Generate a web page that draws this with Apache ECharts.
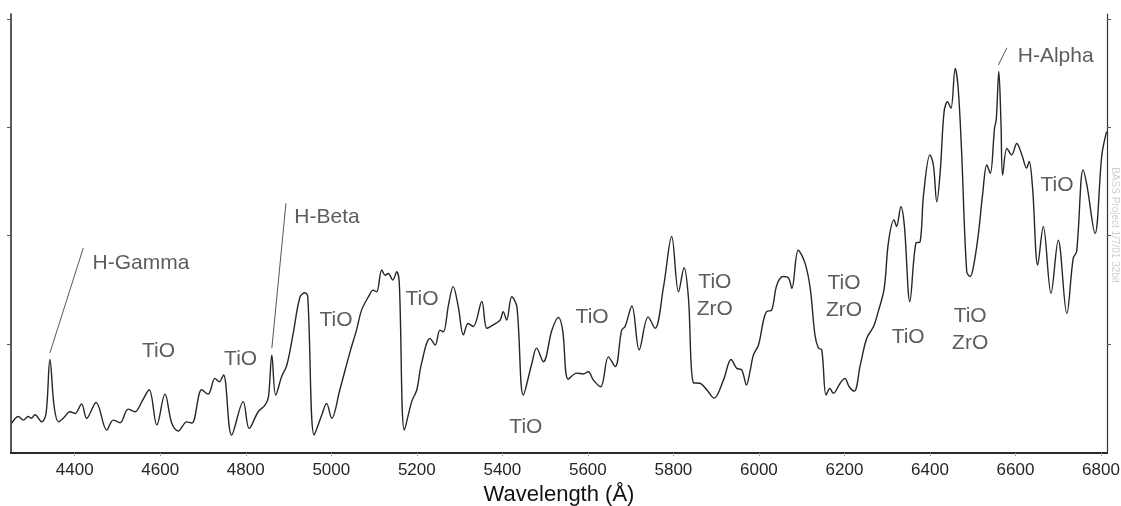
<!DOCTYPE html>
<html><head><meta charset="utf-8">
<script src="https://cdn.jsdelivr.net/npm/echarts@6/dist/echarts.min.js"></script>
<style>html,body{margin:0;padding:0;background:#fff}#c{width:1121px;height:506px}</style>
</head><body><div id="c"></div>
<script>
const wavelength = [4253,4268,4280,4291,4299,4307,4323,4333,4342,4352,4362,4373,4389,4401,4416,4428,4450,4475,4490,4506,4525,4541,4557,4574,4592,4611,4627,4642,4662,4674,4697,4712,4728,4738,4748,4767,4794,4808,4829,4845,4853,4861,4870,4884,4896,4911,4927,4939,4945,4960,4978,4989,5001,5020,5044,5059,5071,5087,5098,
5106,5118,5126,5133,5144,5153,5159,5171,5188,5200,5211,5231,5243,5254,5262,5274,5285,5297,5309,5320,5332,5352,5364,5379,5395,5402,5410,5422,5434,5449,5469,5480,5496,5516,5531,5541,5554,5574,5589,5601,5613,5630,5648,5664,5679,5687,5703,5720,5741,5757,5777,5796,5812,5825,5835,5847,5862,5878,5895,5917,5935,5948,5960,5971,5979,
5987,5999,6010,6018,6030,6042,6057,6069,6077,6092,6108,6120,6131,6139,6147,6157,6166,6174,6190,6201,6211,6223,6237,6252,6268,6279,6293,6303,6316,6322,6332,6340,6353,6367,6377,6385,6400,6408,6416,6424,6433,6441,6449,6459,6466,6474,6486,6494,6501,6513,6523,6533,6541,6551,6555,6561,6566,6570,6580,6591,6603,6615,6626,6632,6640,6652,6665,6683,6700,6720,6735,6743,6758,6767,6786,6802,6813];
const flux = [6.8,8.3,7.5,8.3,7.9,8.7,7.1,9.0,21.3,10.5,7.1,7.9,9.4,9.0,11.2,7.9,11.5,5.2,7.5,6.9,10.0,9.4,11.7,14.4,6.4,13.4,6.8,5.0,7.1,6.8,14.4,13.4,17.0,16.2,17.8,4.1,11.7,5.6,9.4,10.9,12.8,22.3,13.2,17.4,20.0,27.3,35.6,36.5,35.6,4.1,8.7,11.3,7.9,14.4,23.1,28.0,32.6,35.6,37.1,
36.7,41.7,40.5,40.9,39.4,41.3,38.7,5.2,11.7,14.4,20.4,26.1,24.6,28.0,27.6,33.7,37.9,33.3,26.9,29.5,28.8,34.5,28.4,29.2,30.3,32.2,30.3,35.6,33.3,13.2,20.4,23.9,20.8,28.0,30.9,28.0,16.8,18.2,18.0,18.5,16.6,15.1,21.9,19.7,28.0,28.8,33.5,23.5,31.0,28.4,37.9,49.3,36.7,42.2,35.6,16.0,15.9,14.4,12.5,16.6,21.3,19.3,18.9,15.5,18.5,
22.3,24.6,29.9,32.2,32.6,38.3,40.2,39.9,37.5,46.2,43.2,37.5,26.9,23.9,23.5,13.2,14.7,13.6,15.9,17.0,15.1,14.1,20.0,26.1,28.8,32.2,37.5,48.1,53.1,51.6,56.1,51.9,34.5,47.8,48.1,58.8,67.9,65.6,57.2,64.1,77.7,80.0,78.5,87.6,83.1,68.6,41.3,40.2,42.1,49.7,58.8,65.6,63.7,74.0,75.9,86.9,75.5,63.3,69.4,67.9,70.5,67.9,64.9,66.4,60.3,42.8,51.6,36.4,48.5,31.8,44.4,45.9,64.5,61.0,50.0,67.9,73.2];

const xTickValues = [4400,4600,4800,5000,5200,5400,5600,5800,6000,6200,6400,6600,6800];
const yTickValues = [24.8,49.5,74.2,98.8];
const xMin = 4251, xMax = 6814, yMin = 0, yMax = 100;

const annoText = ['H-Gamma','H-Beta','H-Alpha','TiO','TiO','TiO','TiO','TiO','TiO','TiO\nZrO','TiO\nZrO','TiO','TiO\nZrO','TiO'];
const annoX    = [4555,4990,6694,4596,4788,5011,5212,5455,5610,5897,6199,6349,6494,6697];
const annoY    = [43.3,53.8,90.4,23.3,21.4,30.2,35.1,5.8,30.9,35.8,35.6,26.3,28.0,60.9];

const leaderFrom = [[4342,22.8],[4861,23.9],[6560,88.4]];
const leaderTo   = [[4420,46.7],[4894,56.9],[6580,92.3]];

const FONT = "'Liberation Sans', Arial, sans-serif";
const spectrum = wavelength.map((w,i)=>[w, flux[i]]);
const annos = annoText.map((t,i)=>({name:t, value:[annoX[i], annoY[i]]}));
const leaders = leaderFrom.map((f,i)=>[{coord:f},{coord:leaderTo[i]}]);

const chart = echarts.init(document.getElementById('c'), null, {renderer:'canvas'});
chart.setOption({
  animation:false,
  backgroundColor:'#fff',
  grid:{left:11, right:14, top:14, bottom:53, outerBoundsMode:'none'},
  xAxis:[{
    type:'value', min:xMin, max:xMax, position:'bottom',
    axisLine:{lineStyle:{color:'#111', width:2}},
    axisTick:{customValues:xTickValues, length:3, lineStyle:{color:'#999'}},
    axisLabel:{customValues:xTickValues, formatter:v=>String(v), fontSize:17, color:'#262626', fontFamily:FONT, margin:9},
    splitLine:{show:false},
    name:'Wavelength (Å)', nameLocation:'middle', nameGap:28,
    nameTextStyle:{fontSize:22, color:'#111', fontFamily:FONT}
  },{
    type:'value', min:xMin, max:xMax, position:'top',
    axisLine:{lineStyle:{color:'#333', width:1.5}},
    axisTick:{customValues:xTickValues, inside:true, length:3, lineStyle:{color:'#aaa'}},
    axisLabel:{show:false}, splitLine:{show:false}
  }],
  yAxis:[{
    type:'value', min:yMin, max:yMax, position:'left',
    axisLine:{show:true, lineStyle:{color:'#222', width:1.5}},
    axisTick:{show:true, customValues:yTickValues, length:4, lineStyle:{color:'#555'}},
    axisLabel:{show:false}, splitLine:{show:false}
  },{
    type:'value', min:yMin, max:yMax, position:'right',
    axisLine:{show:true, lineStyle:{color:'#333', width:1.2}},
    axisTick:{show:true, customValues:yTickValues, length:4, lineStyle:{color:'#555'}},
    axisLabel:{show:false}, splitLine:{show:false}
  }],
  series:[{
    type:'line', data:spectrum, showSymbol:false, smooth:0.35,
    lineStyle:{color:'#262626', width:1.4},
    silent:true,
    markLine:{
      silent:true, symbol:['none','none'],
      lineStyle:{color:'#555', width:1, type:'solid'},
      label:{show:false},
      data:leaders
    }
  },{
    type:'scatter', data:annos, symbolSize:1, silent:true,
    itemStyle:{color:'rgba(0,0,0,0)'},
    label:{show:true, position:'inside', formatter:'{b}', fontSize:21, lineHeight:27,
      color:'#333', fontFamily:FONT, align:'center', verticalAlign:'middle'}
  }],
  graphic:[{
    type:'text', x:1115, y:225, rotation:-Math.PI/2,
    style:{text:'BASS Project 1/7/01 32bit', fill:'#d0d0d0', fontSize:10, fontFamily:FONT,
      align:'center', verticalAlign:'middle'}
  }]
});
</script></body></html>
